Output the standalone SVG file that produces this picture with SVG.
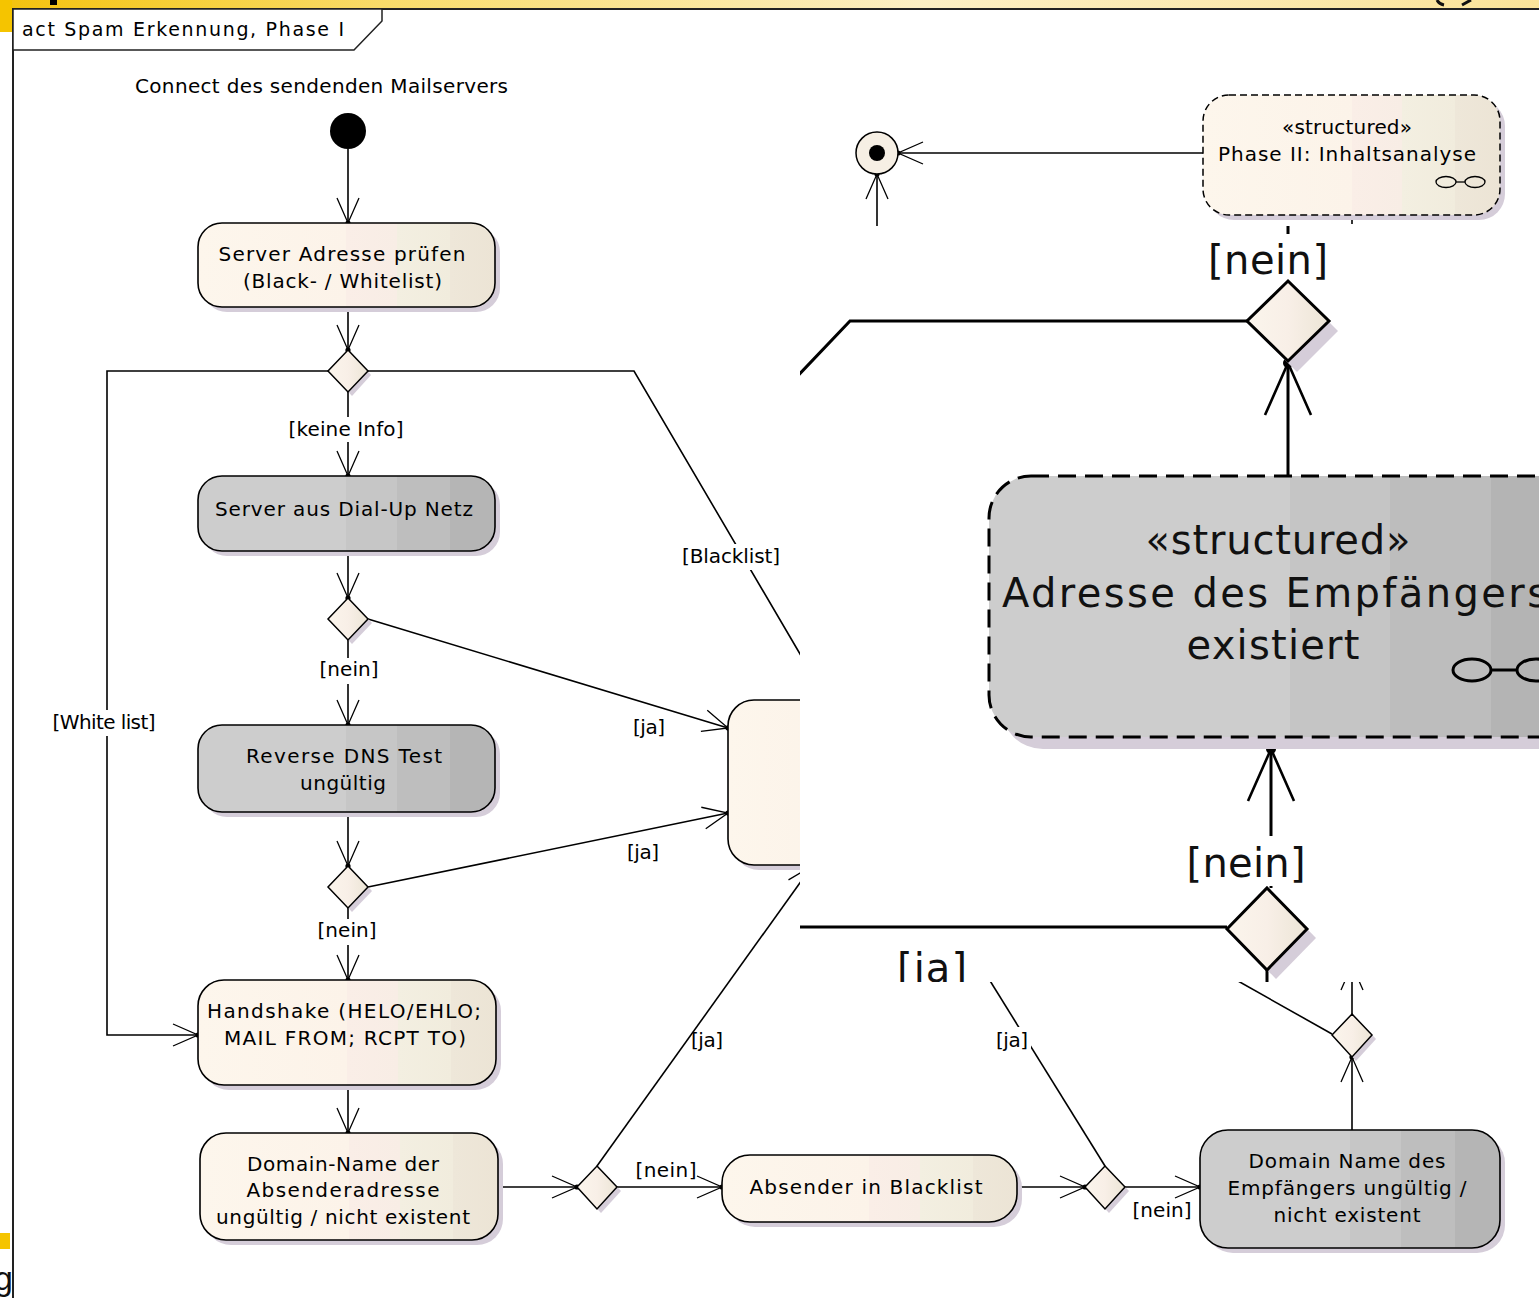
<svg xmlns="http://www.w3.org/2000/svg" width="1539" height="1298" viewBox="0 0 1539 1298">
<defs>
<style>
.t{font-family:"DejaVu Sans","Liberation Sans",sans-serif;font-size:20px;fill:#000;text-anchor:middle}
.tl{font-family:"DejaVu Sans","Liberation Sans",sans-serif;font-size:19px;fill:#000}
.T{font-family:"DejaVu Sans","Liberation Sans",sans-serif;font-size:40px;fill:#111;text-anchor:middle}
.TL{font-family:"DejaVu Sans","Liberation Sans",sans-serif;font-size:40px;fill:#111}
.c{fill:none;stroke:#000;stroke-width:1.6}
.ca{fill:none;stroke:#000;stroke-width:1.6;marker-end:url(#ah)}
.C{fill:none;stroke:#000;stroke-width:3}
.CA{fill:none;stroke:#000;stroke-width:3;marker-end:url(#AH)}
.nc{fill:url(#gc);stroke:#000;stroke-width:1.6}
.ng{fill:url(#gg);stroke:#000;stroke-width:1.6}
.sh{fill:#D5CDD9}
.dm{fill:url(#gd);stroke:#000;stroke-width:1.5}
.lb{fill:#fff}
</style>
<linearGradient id="band" x1="0" x2="1" y1="0" y2="0">
<stop offset="0" stop-color="#F4C20D"/><stop offset="0.25" stop-color="#F9DC6A"/><stop offset="0.6" stop-color="#FCEFC4"/><stop offset="1" stop-color="#FBE49A"/>
</linearGradient>
<linearGradient id="gc" x1="0" x2="1" y1="0" y2="0">
<stop offset="0" stop-color="#FDF6EC"/><stop offset="0.5" stop-color="#FCF3E9"/><stop offset="0.5" stop-color="#FAEEE7"/><stop offset="0.67" stop-color="#F8EDE5"/><stop offset="0.67" stop-color="#F3EFE1"/><stop offset="0.85" stop-color="#F1ECDD"/><stop offset="0.85" stop-color="#EEE7D9"/><stop offset="1" stop-color="#ECE4D5"/>
</linearGradient>
<linearGradient id="gg" x1="0" x2="1" y1="0" y2="0">
<stop offset="0" stop-color="#CDCDCD"/><stop offset="0.5" stop-color="#CDCDCD"/><stop offset="0.5" stop-color="#C6C6C6"/><stop offset="0.67" stop-color="#C6C6C6"/><stop offset="0.67" stop-color="#BEBEBE"/><stop offset="0.85" stop-color="#BEBEBE"/><stop offset="0.85" stop-color="#B5B5B5"/><stop offset="1" stop-color="#B5B5B5"/>
</linearGradient>
<linearGradient id="gB" gradientUnits="userSpaceOnUse" x1="989" x2="1539" y1="0" y2="0">
<stop offset="0" stop-color="#CDCDCD"/><stop offset="0.547" stop-color="#CDCDCD"/><stop offset="0.547" stop-color="#C5C5C5"/><stop offset="0.729" stop-color="#C5C5C5"/><stop offset="0.729" stop-color="#BDBDBD"/><stop offset="0.913" stop-color="#BDBDBD"/><stop offset="0.913" stop-color="#B4B4B4"/><stop offset="1" stop-color="#B4B4B4"/>
</linearGradient>
<linearGradient id="gd" x1="0" x2="1" y1="0" y2="0">
<stop offset="0" stop-color="#FBF5EC"/><stop offset="0.5" stop-color="#F8EFE7"/><stop offset="1" stop-color="#ECE5D6"/>
</linearGradient>
<marker id="ah" markerUnits="userSpaceOnUse" viewBox="-30 -15 34 30" refX="0" refY="0" markerWidth="34" markerHeight="30" orient="auto" overflow="visible">
<path d="M-25,-11L0,0L-25,11" fill="none" stroke="#000" stroke-width="1.3"/>
<circle r="2.6" fill="#000"/>
</marker>
<marker id="AH" markerUnits="userSpaceOnUse" viewBox="-60 -30 68 60" refX="0" refY="0" markerWidth="68" markerHeight="60" orient="auto" overflow="visible">
<path d="M-52,-23L0,0L-52,23" fill="none" stroke="#000" stroke-width="2.6"/>
<circle r="5" fill="#000"/>
</marker>
<clipPath id="ins"><rect x="800" y="226" width="739" height="756"/></clipPath>
</defs>

<rect x="0" y="0" width="1539" height="1298" fill="#fff"/>

<g id="slide">
<rect x="0" y="0" width="1539" height="8" fill="url(#band)"/>
<rect x="0" y="0" width="12" height="32" fill="#F5C400"/>
<rect x="50" y="0" width="7" height="5" fill="#000"/>
<path d="M1437,0q2,4 7,5M1462,5l9,-5" fill="none" stroke="#111" stroke-width="3"/>
<rect x="0" y="1233" width="10" height="16" fill="#F5C400"/>
<text x="-6" y="1290" style="font-family:'Liberation Sans',sans-serif;font-size:34px;fill:#111">g</text>
</g>

<g id="frame">
<path d="M13,1298V9H1539" fill="none" stroke="#222" stroke-width="2"/>
<polygon points="13,9 382,9 382,21 354,50 13,50" fill="#fff" stroke="#222" stroke-width="1.5"/>
<text class="tl" x="22" y="36" textLength="322" lengthAdjust="spacing">act Spam Erkennung, Phase I</text>
</g>

<g id="connectors">
<path class="ca" d="M348,149V223"/>
<path class="ca" d="M348,307V350"/>
<path class="ca" d="M348,392V476"/>
<path class="ca" d="M329,371H107V1035H198"/>
<path class="ca" d="M367,371H634L827,700"/>
<path class="ca" d="M348,551V598"/>
<path class="ca" d="M368,619L728,728"/>
<path class="ca" d="M348,640V725"/>
<path class="ca" d="M348,812V866"/>
<path class="ca" d="M368,887L728,813"/>
<path class="ca" d="M348,908V980"/>
<path class="ca" d="M348,1085V1133"/>
<path class="ca" d="M498,1187H577"/>
<path class="ca" d="M617,1187H722"/>
<path class="ca" d="M597,1166L812,866"/>
<path class="ca" d="M1017,1187H1085"/>
<path class="ca" d="M1125,1187H1200"/>
<path class="c" d="M1105,1166L974,955"/>
<path class="ca" d="M1352,1130V1057"/>
<path class="ca" d="M1352,1014V965"/>
<path class="c" d="M1222,972L1332,1034"/>
<path class="ca" d="M1203,153H898"/>
<path class="ca" d="M877,226V174"/>
<path class="c" d="M1352,215V224"/>
<circle cx="1352" cy="216" r="2" fill="#000"/>

<rect class="lb" x="283" y="417" width="126" height="25"/>
<text class="t" x="346" y="436" textLength="115" lengthAdjust="spacing">[keine Info]</text>
<rect class="lb" x="49" y="710" width="110" height="26"/>
<text class="t" x="104" y="729" textLength="103" lengthAdjust="spacing">[White list]</text>
<rect class="lb" x="678" y="544" width="106" height="26"/>
<text class="t" x="731" y="563" textLength="98" lengthAdjust="spacing">[Blacklist]</text>
<text class="t" x="649" y="734" textLength="32" lengthAdjust="spacing">[ja]</text>
<rect class="lb" x="315" y="658" width="68" height="26"/>
<text class="t" x="349" y="676" textLength="59" lengthAdjust="spacing">[nein]</text>
<text class="t" x="643" y="859" textLength="32" lengthAdjust="spacing">[ja]</text>
<rect class="lb" x="313" y="919" width="68" height="26"/>
<text class="t" x="347" y="937" textLength="59" lengthAdjust="spacing">[nein]</text>
<text class="t" x="666" y="1177" textLength="61" lengthAdjust="spacing">[nein]</text>
<text class="t" x="707" y="1047" textLength="32" lengthAdjust="spacing">[ja]</text>
<rect class="lb" x="994" y="1027" width="37" height="27"/>
<text class="t" x="1012" y="1047" textLength="32" lengthAdjust="spacing">[ja]</text>
<text class="t" x="1162" y="1217" textLength="59" lengthAdjust="spacing">[nein]</text>
</g>

<g id="start">
<text class="t" x="321.5" y="93" textLength="373" lengthAdjust="spacing">Connect des sendenden Mailservers</text>
<circle cx="348" cy="131" r="18" fill="#000"/>
</g>

<g id="n-server-adresse">
<rect class="sh" x="203" y="228" width="297" height="84" rx="24"/>
<rect class="nc" x="198" y="223" width="297" height="84" rx="24"/>
<text class="t" x="342" y="261" textLength="247" lengthAdjust="spacing">Server Adresse prüfen</text>
<text class="t" x="342.5" y="288" textLength="199" lengthAdjust="spacing">(Black- / Whitelist)</text>
</g>

<g id="d1">
<polygon class="sh" points="352,354 371,375 352,396 333,375"/>
<polygon class="dm" points="348,350 368,371 348,392 328,371"/>
</g>

<g id="n-dialup">
<rect class="sh" x="203" y="481" width="297" height="75" rx="24"/>
<rect class="ng" x="198" y="476" width="297" height="75" rx="24"/>
<text class="t" x="344" y="516" textLength="258" lengthAdjust="spacing">Server aus Dial-Up Netz</text>
</g>

<g id="d2">
<polygon class="sh" points="352,602 372,623 352,644 332,623"/>
<polygon class="dm" points="348,598 368,619 348,640 328,619"/>
</g>

<g id="n-reverse-dns">
<rect class="sh" x="203" y="730" width="297" height="87" rx="24"/>
<rect class="ng" x="198" y="725" width="297" height="87" rx="24"/>
<text class="t" x="344" y="763" textLength="196" lengthAdjust="spacing">Reverse DNS Test</text>
<text class="t" x="343" y="790" textLength="86" lengthAdjust="spacing">ungültig</text>
</g>

<g id="d3">
<polygon class="sh" points="352,870 372,891 352,912 332,891"/>
<polygon class="dm" points="348,866 368,887 348,908 328,887"/>
</g>

<g id="n-handshake">
<rect class="sh" x="203" y="985" width="298" height="105" rx="26"/>
<rect class="nc" x="198" y="980" width="298" height="105" rx="26"/>
<text class="t" x="344" y="1018" textLength="274" lengthAdjust="spacing">Handshake (HELO/EHLO;</text>
<text class="t" x="345" y="1045" textLength="242" lengthAdjust="spacing">MAIL FROM; RCPT TO)</text>
</g>

<g id="n-domain-absender">
<rect class="sh" x="205" y="1138" width="298" height="107" rx="26"/>
<rect class="nc" x="200" y="1133" width="298" height="107" rx="26"/>
<text class="t" x="343" y="1171" textLength="192" lengthAdjust="spacing">Domain-Name der</text>
<text class="t" x="343" y="1197" textLength="193" lengthAdjust="spacing">Absenderadresse</text>
<text class="t" x="343" y="1224" textLength="254" lengthAdjust="spacing">ungültig / nicht existent</text>
</g>

<g id="d4">
<polygon class="sh" points="601,1170 621,1191 601,1213 581,1191"/>
<polygon class="dm" points="597,1166 617,1187 597,1209 577,1187"/>
</g>

<g id="n-absender-blacklist">
<rect class="sh" x="727" y="1160" width="295" height="67" rx="28"/>
<rect class="nc" x="722" y="1155" width="295" height="67" rx="28"/>
<text class="t" x="866" y="1194" textLength="233" lengthAdjust="spacing">Absender in Blacklist</text>
</g>

<g id="d5">
<polygon class="sh" points="1109,1170 1129,1191 1109,1213 1089,1191"/>
<polygon class="dm" points="1105,1166 1125,1187 1105,1209 1085,1187"/>
</g>

<g id="n-domain-empfaenger">
<rect class="sh" x="1205" y="1135" width="300" height="118" rx="28"/>
<rect class="ng" x="1200" y="1130" width="300" height="118" rx="28"/>
<text class="t" x="1347" y="1168" textLength="197" lengthAdjust="spacing">Domain Name des</text>
<text class="t" x="1347" y="1195" textLength="239" lengthAdjust="spacing">Empfängers ungültig /</text>
<text class="t" x="1347" y="1222" textLength="147" lengthAdjust="spacing">nicht existent</text>
</g>

<g id="d6">
<polygon class="sh" points="1356,1018 1376,1039 1356,1061 1336,1039"/>
<polygon class="dm" points="1352,1014 1372,1035 1352,1057 1332,1035"/>
</g>

<g id="n-spam">
<rect class="sh" x="733" y="705" width="200" height="165" rx="26"/>
<rect class="nc" x="728" y="700" width="200" height="165" rx="26"/>
</g>

<g id="final">
<circle cx="877" cy="153" r="21" fill="#F6EFE4" stroke="#000" stroke-width="1.5"/>
<circle cx="877" cy="153" r="8" fill="#000"/>
</g>

<g id="n-phase2">
<rect class="sh" x="1208" y="100" width="297" height="120" rx="26"/>
<rect x="1203" y="95" width="297" height="120" rx="26" fill="url(#gc)" stroke="#000" stroke-width="1.5" stroke-dasharray="7 4"/>
<text class="t" x="1347" y="134" textLength="130" lengthAdjust="spacing">«structured»</text>
<text class="t" x="1347" y="161" textLength="258" lengthAdjust="spacing">Phase II: Inhaltsanalyse</text>
<ellipse cx="1446" cy="182" rx="10" ry="5.5" fill="none" stroke="#000" stroke-width="1.3"/>
<ellipse cx="1475" cy="182" rx="10" ry="5.5" fill="none" stroke="#000" stroke-width="1.3"/>
<path d="M1456,182H1465" stroke="#000" stroke-width="1.3"/>
</g>

<g id="inset">
<rect x="800" y="226" width="739" height="756" fill="#fff"/>
<g clip-path="url(#ins)">
<g id="inset-connectors">
<path class="C" d="M1247,321H850L790,384"/>
<path class="C" d="M1288,281V220"/>
<path class="CA" d="M1288,476V363"/>
<path class="CA" d="M1271,888V749"/>
<path class="C" d="M1227,927H790"/>
<path class="C" d="M1267,970V990"/>
<rect class="lb" x="1198" y="234" width="140" height="47"/>
<text class="T" x="1268" y="274" textLength="120" lengthAdjust="spacing">[nein]</text>
<rect class="lb" x="1180" y="836" width="132" height="50"/>
<text class="T" x="1246" y="877" textLength="119" lengthAdjust="spacing">[nein]</text>
<text class="T" x="932" y="982" textLength="70" lengthAdjust="spacing">[ja]</text>
</g>
<g id="d7">
<polygon class="sh" points="1297,290 1338,331 1297,372 1256,331"/>
<polygon points="1288,281 1329,321 1288,361 1247,321" fill="url(#gd)" stroke="#000" stroke-width="3"/>
</g>
<g id="n-adresse-empfaenger">
<rect class="sh" x="1001" y="488" width="700" height="261" rx="42"/>
<rect x="989" y="476" width="700" height="261" rx="42" fill="url(#gB)" stroke="#000" stroke-width="3" stroke-dasharray="18 9"/>
<text class="T" x="1278" y="554" textLength="265" lengthAdjust="spacing">«structured»</text>
<text class="TL" x="1002" y="607" textLength="546" lengthAdjust="spacing">Adresse des Empfängers</text>
<text class="T" x="1273" y="659" textLength="173" lengthAdjust="spacing">existiert</text>
<ellipse cx="1472" cy="670" rx="19" ry="11" fill="none" stroke="#000" stroke-width="3"/>
<ellipse cx="1536" cy="670" rx="19" ry="11" fill="none" stroke="#000" stroke-width="3"/>
<path d="M1491,670H1517" stroke="#000" stroke-width="3"/>
</g>
<g id="d8">
<polygon class="sh" points="1276,897 1316,938 1276,979 1236,938"/>
<polygon points="1267,888 1307,929 1267,970 1227,929" fill="url(#gd)" stroke="#000" stroke-width="3"/>
</g>
</g>
</g>
</svg>
